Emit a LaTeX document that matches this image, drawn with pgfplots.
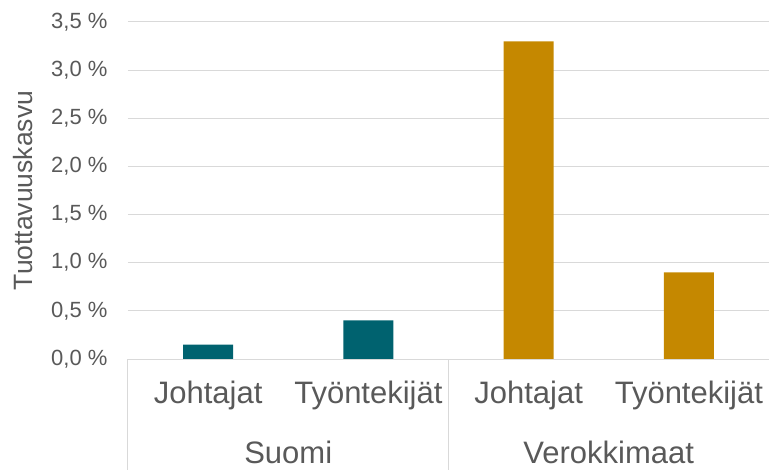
\documentclass[border=0pt]{standalone}
\usepackage{pgfplots}
\pgfplotsset{compat=1.18}
\usepackage{fontspec}
\setmainfont{Liberation Sans}
\definecolor{teal1}{HTML}{00626F}
\definecolor{gold1}{HTML}{C58800}
\definecolor{txt}{HTML}{595959}
\definecolor{grd}{HTML}{D9D9D9}
\begin{document}
\begin{tikzpicture}
\begin{axis}[
  width=641pt, height=337pt, scale only axis,
  xmin=-0.5, xmax=3.5, ymin=0, ymax=3.5,
  ytick={0,0.5,1,1.5,2,2.5,3,3.5},
  yticklabels={{0,0~\%},{0,5~\%},{1,0~\%},{1,5~\%},{2,0~\%},{2,5~\%},{3,0~\%},{3,5~\%}},
  xtick={0,1,2,3},
  xticklabels={Johtajat,Työntekijät,Johtajat,Työntekijät},
  axis line style={draw=none},
  major tick length=0pt,
  ymajorgrids, grid style={grd, line width=1pt},
  yticklabel style={font=\fontsize{22}{25}\selectfont, text=txt, anchor=east, xshift=-17pt},
  xticklabel style={font=\fontsize{31}{35}\selectfont, text=txt, anchor=base, yshift=-44pt},
  ybar, bar width=50pt,
  clip=false,
]
\addplot[fill=teal1, draw=none, bar shift=0pt] coordinates {(0,0.15) (1,0.40)};
\addplot[fill=gold1, draw=none, bar shift=0pt] coordinates {(2,3.30) (3,0.90)};
\draw[grd, line width=1pt] (axis cs:-0.5,0) -- (axis cs:3.5,0);
\draw[grd, line width=1pt] (axis cs:-0.5,0) -- ([yshift=-111pt]axis cs:-0.5,0);
\draw[grd, line width=1pt] (axis cs:1.5,0) -- ([yshift=-111pt]axis cs:1.5,0);
\draw[grd, line width=1pt] (axis cs:3.5,0) -- ([yshift=-111pt]axis cs:3.5,0);
\node[font=\fontsize{31}{35}\selectfont, text=txt, anchor=base] at ([yshift=-104pt]axis cs:0.5,0) {Suomi};
\node[font=\fontsize{31}{35}\selectfont, text=txt, anchor=base] at ([yshift=-104pt]axis cs:2.5,0) {Verokkimaat};
\node[font=\fontsize{26.5}{30}\selectfont, text=txt, rotate=90, anchor=center] at ([xshift=-105pt]rel axis cs:0,0.5) {Tuottavuuskasvu};
\coordinate (ll) at (rel axis cs:0,0);
\coordinate (ur) at (rel axis cs:1,1);
\end{axis}
\pgfresetboundingbox
\path ([shift={(-128pt,-111pt)}]ll) rectangle ([shift={(0pt,22pt)}]ur);
\end{tikzpicture}
\end{document}
